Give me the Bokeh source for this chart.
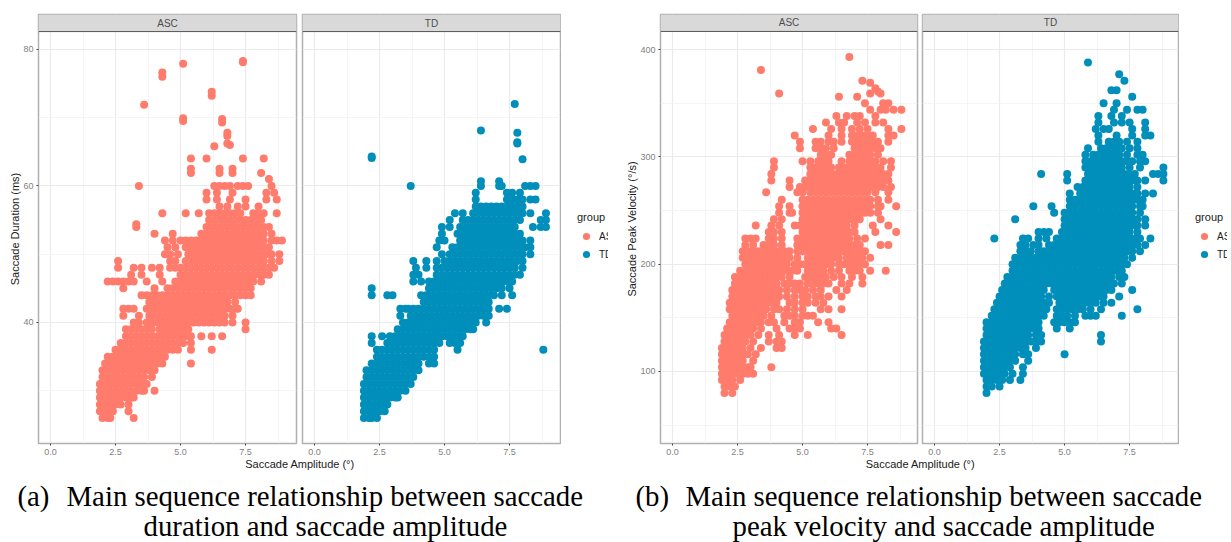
from bokeh.embed import file_html
from bokeh.resources import INLINE
from bokeh.plotting import figure
from bokeh.layouts import row, column
from bokeh.models import (Range1d, FixedTicker, BoxAnnotation, Label, Legend, LegendItem, NumeralTickFormatter, Span)

FONT = "Liberation Sans"
ASC_COLOR = "#FF7B6C"
TD_COLOR = "#008EBA"

facet_names = ["ASC", "TD"]
legend_labels = ["AS", "TD"]
x_title = "Saccade Amplitude (°)"
y_title_dur = "Saccade Duration (ms)"
y_title_vel = "Saccade Peak Velocity (°/s)"
x_ticks = [0, 2.5, 5, 7.5]
x_minor = [1.25, 3.75, 6.25, 8.75]
dur_ticks = [40, 60, 80]
dur_minor = [30, 50, 70]
vel_ticks = [100, 200, 300, 400]
vel_minor = [50, 150, 250, 350]

# each row: value on the y axis, then amplitudes in tenths of a degree
asc_dur_rows = [
(26,[20,22,23,32]),(27,[19,21,23,24,30]),(28,[19,21,23,25,27,30]),
(29,[19,21,23,25,27,29,31,32]),(30,[19,21,23,25,27,29,31,33,35,36,40]),
(31,[19,21,23,25,27,29,31,33,35,37]),(32,[20,22,24,26,28,30,32,34,36,39]),
(33,[20,22,24,26,28,30,32,34,36,38,40]),(34,[21,23,25,27,29,31,33,35,37,39,41,43,54]),
(35,[22,24,26,28,30,32,34,36,38,40,42,44]),(36,[25,27,29,31,33,35,37,39,41,43,45,47,49,54,62]),
(37,[27,29,31,33,35,37,39,41,43,45,47,49,51,54]),
(38,[29,31,33,35,37,39,41,43,45,47,49,51,53,54,58,62,66]),
(39,[29,31,33,35,37,39,42,44,46,48,50,52,53,75]),
(40,[32,34,37,39,41,43,45,47,49,51,53,55,57,59,61,63,65,67,70,75]),
(41,[28,34,38,40,42,44,46,48,50,52,54,56,58,60,62,64,66,67,70]),
(42,[28,30,32,37,39,41,43,45,47,49,51,53,55,57,59,61,63,65,67,69,71,72]),
(43,[38,40,42,44,46,48,50,52,54,56,58,60,62,64,66,68,71]),
(44,[35,37,39,41,43,45,47,49,51,53,55,57,59,61,63,65,67,69,71,73,75,77]),
(45,[28,40,45,47,49,51,53,55,57,59,61,63,65,67,69,71,73,75,77]),
(46,[22,24,26,28,30,32,37,43,48,50,52,54,56,58,60,62,64,66,68,70,72,74,76,78,81]),
(47,[31,35,42,50,52,54,56,58,60,62,64,66,68,70,72,74,76,78,80,82,84]),
(48,[26,32,35,39,42,46,48,50,52,54,56,58,60,62,64,66,68,70,72,74,76,78,80,82,84,86]),
(49,[26,46,48,52,54,56,58,60,62,64,66,68,70,72,74,76,78,80,82,85,88]),
(50,[44,46,49,53,55,57,59,61,63,65,67,69,71,73,75,77,79,81,83,85,88]),
(51,[45,48,52,54,56,58,60,62,64,66,68,70,72,74,76,78,80,82,84]),
(52,[44,47,50,52,54,56,58,60,62,64,66,68,70,72,74,76,78,80,82,85,87,89]),
(53,[40,47,58,60,62,64,66,68,70,72,74,76,78,80,82,85]),
(54,[33,60,62,64,66,68,70,72,74,76,78,80,82,84]),
(54.4,[33]),(55,[61,63,65,67,69,71,73,75,77,79,81]),
(56,[43,52,57,61,63,65,67,69,71,73,78,80,82,87]),
(57,[65,68,72,75,80]),(58,[60,64,69,75,83,87]),(59,[60,64,70,83,86]),
(60,[34,63,65,67,69,72,74,76,85]),(61,[84]),
(61.9,[54,65,70,81]),(62.5,[54,65,70]),(64,[54,60,74,82]),(65.8,[63]),
(66,[69]),(66.2,[68]),(67.3,[68]),(67.8,[68]),(69.3,[66]),(69.5,[51]),(69.8,[66]),(69.9,[51]),
(71.9,[36]),(73.2,[62]),(73.8,[62]),(76,[43]),(76.6,[43]),(77.9,[51]),(78.1,[74]),(78.3,[74]),
]
td_dur_rows = [
(26,[19,21,22,24]),(27,[19,21,23,25,27]),(28,[19,21,23,25,27,28]),
(29,[19,21,23,25,27,29,31,32]),(30,[19,21,23,25,27,29,31,33,35]),
(31,[19,21,23,25,27,29,31,33,35,37]),(32,[20,22,24,26,28,30,32,34,36,38]),
(33,[20,22,24,26,28,30,32,34,36,38,40]),(34,[22,24,26,28,30,32,34,36,38,40,44,46]),
(35,[24,26,28,30,32,34,36,38,40,42,44,46]),(36,[24,26,28,30,32,34,36,38,40,42,44,46,55,88]),
(37,[22,28,30,32,34,36,38,40,42,44,46,48,52,54,56]),
(38,[22,26,29,31,33,35,37,39,41,43,45,47,49,51,53,55,57]),
(39,[32,34,36,38,40,42,44,46,48,50,52,54,56,58,60,61]),
(40,[34,36,38,40,42,44,46,48,50,52,54,56,58,60,62,66]),
(41,[33,37,39,41,43,45,47,49,51,53,55,57,59,61,63,65,67]),
(42,[33,35,36,38,40,42,44,46,48,50,52,54,56,58,60,62,64,66,67,71,74]),
(43,[42,44,46,48,50,52,54,56,58,60,62,64,66,67]),
(44,[22,28,30,41,43,45,47,49,51,53,55,57,59,61,63,65,67,69,72,76]),
(45,[22,44,46,48,50,52,54,56,58,60,62,64,66,68,70,72,75]),
(46,[38,41,44,46,48,50,52,54,56,58,60,62,64,66,68,70,72,74,76]),
(47,[38,40,47,49,51,53,55,57,59,61,63,65,67,69,71,73,75,77,79]),
(48,[39,43,47,49,51,53,55,57,59,61,63,65,67,69,71,73,75,77,80]),
(49,[38,43,47,50,52,54,56,58,60,62,64,66,68,70,72,74,76,78,80]),
(50,[49,52,54,56,58,60,62,64,66,68,70,72,74,76,78,80,83]),
(51,[47,53,55,57,59,61,63,65,67,69,71,73,75,77,79,81,83]),
(52,[48,50,56,58,60,62,64,66,68,70,72,74,76,78,80,83]),
(53,[49,55,57,59,61,63,65,67,69,71,73,75,77,79]),
(54,[49,52,56,58,60,62,64,66,68,70,72,74,76,77,84,87,89]),
(55,[52,57,59,61,63,65,67,69,71,73,75,77,79,87,89]),
(56,[54,57,61,63,65,67,69,71,73,75,77,79,80,83,89]),
(57,[62,64,66,68,70,72,74,76,78,80]),(58,[62,74,76,78,80,83,85]),(59,[62,74,76,79]),
(60,[37,64,71,72,81,83,85]),(60.7,[71,64]),(63.9,[80]),(64.1,[22]),(64.3,[22]),
(66.2,[78]),(66.4,[78]),(67.8,[78]),(68.1,[64]),(72,[77]),
]
asc_vel_rows = [
(80,[20,23]),(86,[20,22,24]),(92,[19,21,23,26]),(98,[19,21,23,25,27,29,31]),
(104,[19,21,23,25,27,29,30,38]),(110,[19,21,23,25,27,31]),(116,[19,21,23,25,27,29,32]),
(122,[19,21,23,25,27,30,34,40,42]),(128,[20,22,24,26,28,31,37,40,42]),
(134,[20,22,24,26,28,30,33,37,41,47,52,65]),(140,[21,23,25,27,29,31,34,40,45,47,49,61,63]),
(146,[22,24,26,28,30,32,34,37,39,43,47,49,56,60]),
(152,[23,25,27,29,31,33,35,38,43,45,47,50,52,54]),
(158,[22,24,26,28,30,32,34,36,39,41,44,47,50,57,60,65]),
(164,[22,24,26,28,30,32,34,36,38,40,45,47,50,52,55,58]),
(170,[23,25,27,29,31,33,35,37,39,41,44,47,50,52,55,57,60,65]),
(176,[23,25,27,29,31,33,35,37,39,41,44,47,49,51,54,57,63,67]),
(182,[24,26,28,30,32,34,36,38,40,43,45,47,49,52,54,56,58,60,65,68,73]),
(188,[24,26,28,30,32,34,36,38,40,42,45,51,53,55,57,59,62,65,69,73]),
(194,[26,28,30,32,34,36,38,40,42,44,46,48,52,54,56,58,61,64,68,70,72,76,82]),
(200,[28,30,32,34,36,38,40,42,44,47,49,51,53,55,57,59,61,64,66,68,70,72,74]),
(206,[27,29,31,33,35,37,39,41,43,45,48,52,54,56,58,60,62,64,67,69,71,73,76]),
(212,[27,29,31,33,35,37,39,41,43,45,48,50,52,54,56,58,60,62,64,66,68,70,72,74]),
(218,[28,31,35,37,39,42,48,50,52,54,56,58,60,62,64,66,68,70,72,80,83]),
(224,[28,30,32,37,39,42,48,50,52,54,56,58,60,62,64,66,68,71,74]),
(230,[37,39,42,50,52,54,56,58,60,62,64,66,68,70,78,86]),
(236,[32,38,41,47,49,51,53,55,57,59,61,63,65,67,70,77,83]),
(242,[39,42,50,52,54,56,58,60,62,64,66,68,70,72,80]),
(248,[41,45,46,50,52,54,56,58,60,62,64,66,68,70,72,74,76,79]),
(254,[41,45,50,52,54,56,58,60,62,64,66,68,70,72,74,76,79,80,86]),
(260,[42,50,52,54,56,58,60,62,64,66,68,70,72,74,76,79,83]),
(267,[36,48,50,53,55,57,59,61,63,65,67,69,71,73,75,78,83]),
(272,[45,49,51,53,55,57,59,61,63,65,67,69,71,73,75,77,79,81,84]),
(278,[38,45,51,53,55,57,59,61,63,65,67,69,71,73,75,77,79,81,83]),
(284,[38,53,55,57,59,61,63,65,67,69,71,73,75,77,79,81,83]),
(290,[39,53,55,57,59,61,64,66,68,70,72,74,76,78,80,84]),
(296,[39,50,53,56,58,60,65,68,70,72,74,76,78,81,84]),
(302,[57,59,61,68,70,72,74,76,79]),(308,[49,55,57,59,62,70,72,74,76,78,80]),
(314,[49,55,57,60,62,65,69,71,73,75,77,79,83]),(320,[47,60,65,69,71,73,75,77,83,85]),
(326,[54,61,65,69,72,75,83,88]),(332,[59,64,66,71,74,78,81]),(338,[63,67,70,72,78]),
(344,[76,80,82,85,88]),(350,[74,81,83]),(356,[64,71]),(359,[41,76,80]),(361,[79]),(364,[78]),
(369,[76]),(371,[73]),(381,[34]),(393,[68]),
]
td_vel_rows = [
(80,[20]),(86,[20,22,25]),(92,[20,22,24,26,29,33]),(98,[19,21,23,25,27,30,34]),
(104,[19,21,23,25,27,29,34]),(110,[19,21,23,25,27,29,31,36]),
(116,[19,21,23,25,27,29,31,34,36,50]),(122,[19,21,23,25,27,29,31,33,35,39]),
(128,[19,21,23,25,27,29,31,33,35,37,39,41,64]),(134,[20,22,24,26,28,30,32,34,36,39,41,64]),
(140,[20,22,24,26,28,30,32,34,36,38,40,47,52]),(146,[20,22,24,26,28,30,32,34,36,38,40,46,48,50,52,54]),
(152,[22,24,26,28,30,32,34,36,38,40,42,47,49,51,54,58,60,62,72]),
(158,[23,25,27,29,31,33,35,37,39,41,43,47,49,51,53,55,57,60,64,78]),
(164,[24,26,28,30,32,34,36,38,40,42,44,48,50,52,54,56,58,60,62,65,68]),
(170,[25,27,29,31,33,35,37,39,41,44,47,49,51,53,55,57,59,61,63,65,71]),
(176,[26,28,30,32,34,36,38,40,42,46,48,50,52,54,56,58,60,62,64,66,68,76]),
(182,[27,29,31,33,35,37,39,41,43,45,47,49,51,53,55,57,59,61,63,65,67,69,72]),
(188,[28,30,32,34,36,38,40,42,44,46,48,50,52,54,56,58,60,62,64,66,68,71,73]),
(194,[30,32,34,36,38,40,42,44,46,48,50,52,54,56,58,60,62,64,66,68,70,72]),
(200,[30,32,34,36,38,40,42,44,46,48,50,52,54,56,58,60,62,64,66,68,70,72,74]),
(206,[31,33,35,37,39,41,43,45,47,49,51,53,55,57,59,61,63,65,67,69,71,73,76]),
(212,[33,35,37,40,42,44,46,48,50,52,54,56,58,60,62,64,66,68,70,72,74,76,79]),
(218,[33,35,38,40,44,46,48,50,52,54,56,58,60,62,64,66,68,70,72,74,76,78,81]),
(224,[23,34,36,40,43,47,49,51,53,55,57,59,61,63,65,67,69,71,73,75,77,79,83]),
(230,[40,42,44,49,51,53,55,57,59,61,63,65,67,69,71,73,75,78]),
(236,[50,52,54,56,58,60,62,64,66,68,70,72,74,76,78,81]),
(242,[31,50,52,54,56,58,60,62,64,66,68,70,72,74,76,78,81]),
(248,[46,50,52,54,56,58,60,62,64,66,68,70,72,74,76,79]),
(254,[38,45,52,54,56,58,60,62,64,66,68,70,72,74,76,79,80]),
(260,[52,54,56,58,60,62,64,66,68,70,72,74,76,78,80]),
(266,[52,56,58,60,62,64,66,68,70,72,74,76,78,81,84]),
(272,[55,57,59,61,63,65,67,69,71,73,75,78]),(278,[51,58,60,62,64,66,68,70,72,74,76,78,81,88]),
(284,[41,51,59,61,63,65,67,69,71,73,75,77,84,86,88]),(290,[58,60,62,64,66,68,70,72,75,79,88]),
(296,[58,60,62,64,66,68,70,72,74,76,79,81]),(302,[58,61,63,65,67,69,71,74,78,80]),
(308,[59,64,66,68,70,72,75,78]),(314,[63,67,69,71,74,78]),(320,[63,70,76,81,83]),
(326,[62,65,67,76,81]),(332,[63,69,72,75,81]),(338,[63,68,72]),(344,[69,74,78,80]),(350,[65,70]),
(356,[76]),(362,[68,70]),(371,[73]),(377,[71]),(388,[59]),
]


def flatten(rows):
    xs, ys = [], []
    for y, tenths in rows:
        for t in tenths:
            xs.append(t / 10)
            ys.append(y)
    return xs, ys


def panel(rows, color, name, width, left, right, x_end, y_range, y_panel_top, y_ticks, y_minor, y_title=None):
    p = figure(width=width, height=458, output_backend="svg", toolbar_location=None,
               x_range=Range1d(-0.4615, x_end), y_range=Range1d(*y_range),
               min_border_left=left, min_border_right=right, min_border_top=14, min_border_bottom=15,
               outline_line_color="#B0B0B0", outline_line_width=1.5,
               background_fill_color="white", border_fill_color="white")
    x, y = flatten(rows)
    p.scatter(x, y, size=8, color=color, line_color=None)
    p.xaxis.ticker = FixedTicker(ticks=x_ticks, minor_ticks=x_minor)
    p.xaxis.formatter = NumeralTickFormatter(format="0.0")
    p.yaxis.ticker = FixedTicker(ticks=y_ticks, minor_ticks=y_minor)
    p.xgrid.ticker = FixedTicker(ticks=x_ticks, minor_ticks=x_minor)
    p.ygrid.ticker = FixedTicker(ticks=y_ticks, minor_ticks=y_minor)
    for g in (p.xgrid, p.ygrid):
        g.grid_line_color = "#EBEBEB"
        g.grid_line_width = 1.2
        g.minor_grid_line_color = "#F3F3F3"
        g.minor_grid_line_width = 0.8
    for a in (p.xaxis, p.yaxis):
        a.axis_line_color = None
        a.minor_tick_line_color = None
        a.major_tick_line_color = "#444444"
        a.major_tick_line_width = 1
        a.major_tick_in = 0
        a.major_tick_out = 2
        a.major_label_text_font = FONT
        a.major_label_text_font_size = "9px"
        a.major_label_text_color = "#7F7F7F"
        a.major_label_standoff = 1
    if y_title:
        p.yaxis.axis_label = y_title
        p.yaxis.axis_label_text_font = FONT
        p.yaxis.axis_label_text_font_style = "normal"
        p.yaxis.axis_label_text_font_size = "11px"
        p.yaxis.axis_label_text_color = "#1A1A1A"
        p.yaxis.axis_label_standoff = -1
    else:
        p.yaxis.visible = False
    # facet strip: the part of the frame above the panel's top
    p.add_layout(BoxAnnotation(bottom=y_panel_top, top=y_range[1], fill_color="#D9D9D9", fill_alpha=1, line_color=None))
    p.add_layout(Span(location=y_panel_top, dimension="width", line_color="#555555", line_width=1))
    p.add_layout(Label(x=(x_end - 0.4615) / 2, y=(y_panel_top + y_range[1]) / 2, text=name, text_align="center",
                       text_baseline="middle", text_font=FONT, text_font_size="10px", text_color="#4D4D4D"))
    return p


def legend_figure(width):
    f = figure(width=width, height=458, output_backend="svg", toolbar_location=None,
               x_range=Range1d(0, 1), y_range=Range1d(0, 1), min_border=0,
               outline_line_color=None, border_fill_color="white", background_fill_color="white")
    f.axis.visible = False
    f.grid.visible = False
    # legend keys only: the single point lies outside this figure's range
    a = f.scatter([-5], [-5], size=8, color=ASC_COLOR, line_color=None)
    t = f.scatter([-5], [-5], size=8, color=TD_COLOR, line_color=None)
    lg = Legend(items=[LegendItem(label=legend_labels[0], renderers=[a]),
                       LegendItem(label=legend_labels[1], renderers=[t])],
                title="group", location=(16, 180), orientation="vertical",
                background_fill_alpha=0, border_line_color=None, padding=0, margin=0, spacing=0,
                glyph_width=18, glyph_height=18, label_standoff=4, label_height=18,
                label_text_font=FONT, label_text_font_size="10px", label_text_color="#1A1A1A",
                title_text_font=FONT, title_text_font_size="11px", title_text_font_style="normal",
                title_text_color="#1A1A1A", title_standoff=4)
    f.add_layout(lg)
    return f


dur_range = (22.28, 85.1)
dur_top = 82.6
vel_range = (32.9, 432.7)
vel_top = 416.9
p1 = panel(asc_dur_rows, ASC_COLOR, facet_names[0], 299, 38, 3, 9.46, dur_range, dur_top, dur_ticks, dur_minor, y_title_dur)
p2 = panel(td_dur_rows, TD_COLOR, facet_names[1], 262, 3, 1, 9.46, dur_range, dur_top, dur_ticks, dur_minor)
l2 = legend_figure(47)
p3 = panel(asc_vel_rows, ASC_COLOR, facet_names[0], 311, 52, 2, 9.42, vel_range, vel_top, vel_ticks, vel_minor, y_title_vel)
p4 = panel(td_vel_rows, TD_COLOR, facet_names[1], 260, 3, 1, 9.38, vel_range, vel_top, vel_ticks, vel_minor)
l4 = legend_figure(48)

cap = figure(width=1227, height=84, output_backend="svg", toolbar_location=None,
             x_range=Range1d(0, 1), y_range=Range1d(0, 1), min_border=0,
             outline_line_color=None, border_fill_color="white")
cap.axis.visible = False
cap.grid.visible = False
captions = [("(a)", 17, 47), ("Main sequence relationship between saccade", 66, 47),
            ("duration and saccade amplitude", 143, 17),
            ("(b)", 635, 47), ("Main sequence relationship between saccade", 685, 47),
            ("peak velocity and saccade amplitude", 732, 17)]
for text, x, y in captions:
    cap.add_layout(Label(x=x, y=y, x_units="screen", y_units="screen", text=text, text_baseline="alphabetic",
                         text_font="Liberation Serif", text_font_size="28.8px", text_color="#000000"))
for cx in (299.5, 920):
    cap.add_layout(Label(x=cx, y=79, x_units="screen", y_units="screen", text=x_title, text_align="center",
                         text_baseline="alphabetic", text_font=FONT, text_font_size="11px", text_color="#1A1A1A"))

page = column(row(p1, p2, l2, p3, p4, l4, spacing=0), cap, spacing=0)
open("out.html", "w").write(file_html(page, INLINE))
